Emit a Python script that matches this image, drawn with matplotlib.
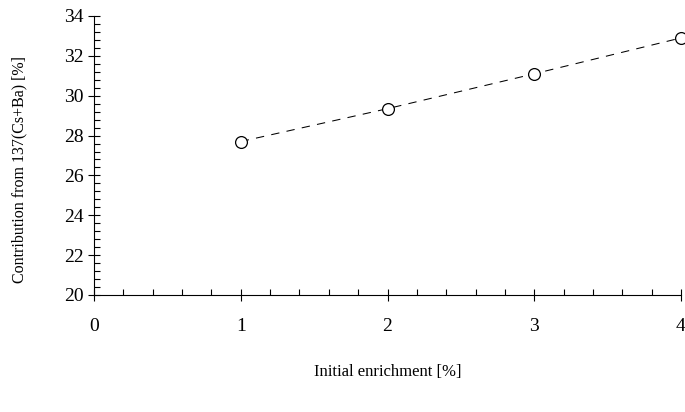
import numpy as np
import matplotlib.pyplot as plt
from matplotlib.ticker import MultipleLocator

enrichment = [1, 2, 3, 4]
contribution = [27.7, 29.35, 31.1, 32.9]

plt.rcParams['font.family'] = 'Liberation Serif'
plt.rcParams['font.size'] = 12

fig = plt.figure(figsize=(6.85, 4.12), dpi=100)
ax = fig.add_axes([94/685, (412-295)/412, (681-94)/685, (295-16)/412])

ax.plot(enrichment, contribution, color='black', lw=0.75, ls=(0, (8, 7)),
        marker='o', ms=8.5, mfc='white', mec='black', mew=0.9, clip_on=False)

ax.set_xlim(0, 4)
ax.set_ylim(20, 34)
ax.spines['top'].set_visible(False)
ax.spines['right'].set_visible(False)
for s in ('left', 'bottom'):
    ax.spines[s].set_linewidth(0.8)

ax.xaxis.set_major_locator(MultipleLocator(1))
ax.xaxis.set_minor_locator(MultipleLocator(0.2))
ax.yaxis.set_major_locator(MultipleLocator(2))
ax.yaxis.set_minor_locator(MultipleLocator(0.4))

ax.tick_params(axis='x', which='major', direction='inout', length=9, width=0.8,
               pad=12, labelsize=14)
ax.tick_params(axis='x', which='minor', direction='in', length=4, width=0.8)
ax.tick_params(axis='y', which='major', direction='inout', length=9, width=0.8,
               pad=3, labelsize=14)
ax.tick_params(axis='y', which='minor', direction='in', length=4.5, width=0.8)

ax.set_xlabel('Initial enrichment [%]', labelpad=21)
ax.set_ylabel('Contribution from 137(Cs+Ba) [%]', fontsize=11.5)
ax.yaxis.set_label_coords(-0.113, 0.45)

fig.savefig('out.png', dpi=100)
